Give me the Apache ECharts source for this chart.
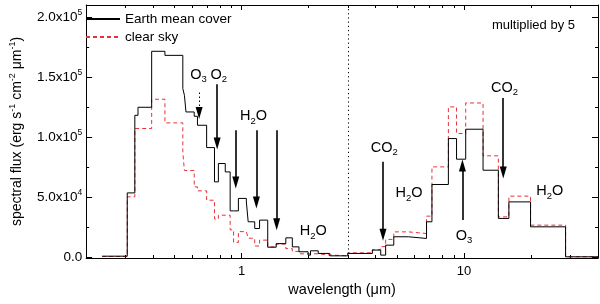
<!DOCTYPE html>
<html><head><meta charset="utf-8">
<script src="https://cdn.jsdelivr.net/npm/echarts@6/dist/echarts.min.js"></script>
<style>html,body{margin:0;padding:0;background:#fff}#c{width:600px;height:304px}</style>
</head><body><div id="c"></div>
<script>
// spectral bin lower edges (µm); the final entry is the upper edge of the last bin
const binEdges = [0.236,0.306,0.331,0.342,0.394,0.452,0.544,0.553,0.562,0.612,0.633,0.696,0.755,0.786,0.844,0.888,0.920,0.967,1.05,1.07,1.145,1.204,1.31,1.43,1.58,1.69,1.81,1.99,2.04,2.21,2.49,3.0,3.87,4.22,4.44,4.83,5.62,6.78,7.17,8.50,9.25,10.17,12.17,14.26,15.9,19.9,28.6,40];
// Earth mean cover flux per bin (>3 µm multiplied by 5)
const coverFlux = [500,53300,118000,124700,171400,168000,140300,134700,120800,117200,109700,91100,62500,77800,70800,38300,38300,48700,45800,29200,23600,30600,8000,11000,15800,8300,4200,1400,5000,2800,800,2800,5600,1400,9700,16700,15300,29200,60300,98600,81400,106400,72200,32000,45800,25000,0];
// clear sky flux per bin
const clearFlux = [300,50000,107000,107000,131400,111700,87000,72000,72000,58300,55000,47200,31500,34700,34700,22500,12000,21000,21000,15500,9000,13900,8300,10600,6800,4500,2500,2500,2500,1500,800,3300,6000,8500,14500,20800,19400,33900,75000,125000,102800,128300,84200,33300,50600,26400,0];

const xMajorTicks = [1, 10];
const xTickLabels = ['1', '10'];
const xMinorTicks = [0.3,0.4,0.5,0.6,0.7,0.8,0.9,2,3,4,5,6,7,8,9,20,30];
const yMajorTicks = [0, 50000, 100000, 150000, 200000];
const yTickLabels = ['0.0', '5.0x10{s|4}', '1.0x10{s|5}', '1.5x10{s|5}', '2.0x10{s|5}'];
const yMinorTicks = [25000, 75000, 125000, 175000];

// annotations: [label, wavelength, flux]
const annotations = [
  ['O{b|3}', 0.64, 152000],
  ['O{b|2}', 0.79, 152000],
  ['H{b|2}O', 1.13, 117500],
  ['H{b|2}O', 2.1, 21500],
  ['CO{b|2}', 4.38, 91000],
  ['H{b|2}O', 5.65, 53000],
  ['O{b|3}', 10.0, 17500],
  ['CO{b|2}', 15.2, 141000],
  ['H{b|2}O', 24.3, 54500]
];
const noteText = ['multiplied by 5', 20.5, 193300];
// arrows: [wavelength, shaft start flux, arrowhead centre flux, dotted, pointing up]
const arrows = [
  [0.644, 137000, 120000, true, false],
  [0.776, 144000, 94500, false, false],
  [0.941, 105600, 62000, false, false],
  [1.165, 105600, 45300, false, false],
  [1.437, 105600, 27200, false, false],
  [4.32, 79200, 18300, false, false],
  [9.83, 30600, 76200, false, true],
  [15.0, 132500, 70300, false, false]
];
const dividerWavelength = 3;

const FONT = '"Liberation Sans", Arial, sans-serif';

function stepData(vals) {
  const d = [];
  for (let i = 0; i < vals.length; i++) d.push([binEdges[i], vals[i]]);
  d.push([binEdges[vals.length], vals[vals.length - 1]]);
  return d;
}

const chart = echarts.init(document.getElementById('c'), null, {renderer: 'canvas'});
const axisLineStyle = {color: '#000', width: 1};
function xAx(pos, major, withLine) {
  return {
    type: 'log', logBase: 10, min: 0.2, max: 40, position: pos,
    axisLine: {show: withLine, onZero: false, lineStyle: axisLineStyle},
    axisTick: {show: true, inside: true, length: major ? 5 : 3, lineStyle: axisLineStyle,
      customValues: major ? xMajorTicks : xMinorTicks},
    axisLabel: {show: false},
    splitLine: {show: false}, minorTick: {show: false}
  };
}
function yAx(pos, major, withLine) {
  return {
    type: 'value', min: -1000, max: 210000, position: pos,
    axisLine: {show: withLine, onZero: false, lineStyle: axisLineStyle},
    axisTick: {show: true, inside: true, length: major ? 6 : 3, lineStyle: axisLineStyle,
      customValues: major ? yMajorTicks : yMinorTicks},
    axisLabel: {show: false},
    splitLine: {show: false}
  };
}
const xAxes = [xAx('bottom', true, true), xAx('bottom', false, false), xAx('top', true, true), xAx('top', false, false)];
xAxes[0].axisLabel = {show: true, customValues: xMajorTicks, margin: 7, color: '#000', fontFamily: FONT, fontSize: 13,
  formatter: v => { const i = xMajorTicks.indexOf(v); return i >= 0 ? xTickLabels[i] : ''; }};
xAxes[0].name = 'wavelength (μm)';
xAxes[0].nameLocation = 'middle';
xAxes[0].nameGap = 24;
xAxes[0].nameTextStyle = {color: '#000', fontFamily: FONT, fontSize: 14.5};

const yAxes = [yAx('left', true, true), yAx('left', false, false), yAx('right', true, true), yAx('right', false, false)];
yAxes[0].axisLabel = {show: true, customValues: yMajorTicks, margin: 4, color: '#000', fontFamily: FONT, fontSize: 13.5, lineHeight: 17,
  formatter: v => { const i = yMajorTicks.indexOf(v); return i >= 0 ? yTickLabels[i] : ''; },
  rich: {s: {fontSize: 8.5, verticalAlign: 'top', lineHeight: 17, fontFamily: FONT, color: '#000'}}};
yAxes[0].name = 'spectral flux (erg s{s|-1} cm{s|-2} μm{s|-1})';
yAxes[0].nameLocation = 'middle';
yAxes[0].nameGap = 54;
yAxes[0].nameTextStyle = {color: '#000', fontFamily: FONT, fontSize: 14, lineHeight: 18,
  rich: {s: {fontSize: 9, verticalAlign: 'top', lineHeight: 18, fontFamily: FONT, color: '#000'}}};

const annoRich = {b: {fontSize: 9.5, verticalAlign: 'bottom', lineHeight: 20, fontFamily: FONT, color: '#000'}};
const markPts = annotations.map(a => ({
  coord: [a[1], a[2]], symbol: 'circle', symbolSize: 0,
  label: {show: true, position: 'inside', formatter: a[0], color: '#000', fontFamily: FONT, fontSize: 14.5, lineHeight: 20, rich: annoRich}
}));
markPts.push({coord: [noteText[1], noteText[2]], symbol: 'circle', symbolSize: 0,
  label: {show: true, position: 'inside', formatter: noteText[0], color: '#000', fontFamily: FONT, fontSize: 13}});
arrows.forEach(a => markPts.push({coord: [a[0], a[2]], symbol: 'triangle', symbolSize: [7, 12],
  symbolRotate: a[4] ? 0 : 180, itemStyle: {color: '#000'}, label: {show: false}}));

const arrowLines = arrows.map(a => [
  {coord: [a[0], a[1]], lineStyle: {type: a[3] ? [1.5, 2.5] : 'solid', width: a[3] ? 1 : 1.6, color: '#000'}},
  {coord: [a[0], a[2]]}
]);
arrowLines.push([{coord: [dividerWavelength, -1000], lineStyle: {type: [1.2, 3], width: 1, color: '#000'}}, {coord: [dividerWavelength, 210000]}]);

chart.setOption({
  animation: false,
  backgroundColor: '#fff',
  grid: {left: 77, right: 2, top: 5, bottom: 46, containLabel: false},
  legend: {left: 85, top: 12, orient: 'vertical', padding: 0, itemGap: 4, itemWidth: 34, itemHeight: 12,
    itemStyle: {opacity: 0},
    textStyle: {color: '#000', fontFamily: FONT, fontSize: 13.5}, selectedMode: false,
    data: ['Earth mean cover', 'clear sky']},
  xAxis: xAxes,
  yAxis: yAxes,
  series: [
    {name: 'Earth mean cover', type: 'line', step: 'end', symbol: 'none', xAxisIndex: 0, yAxisIndex: 0,
      lineStyle: {color: '#000', width: 1}, itemStyle: {color: '#000'}, data: stepData(coverFlux), z: 3,
      markLine: {silent: true, symbol: ['none', 'none'], label: {show: false},
        lineStyle: {color: '#000', width: 1.6, type: 'solid'}, data: arrowLines},
      markPoint: {silent: true, data: markPts}},
    {name: 'clear sky', type: 'line', step: 'end', symbol: 'none', xAxisIndex: 0, yAxisIndex: 0,
      lineStyle: {color: '#e3343c', width: 1, type: [4, 3]}, itemStyle: {color: '#e3343c'}, data: stepData(clearFlux), z: 2}
  ]
});
</script></body></html>
